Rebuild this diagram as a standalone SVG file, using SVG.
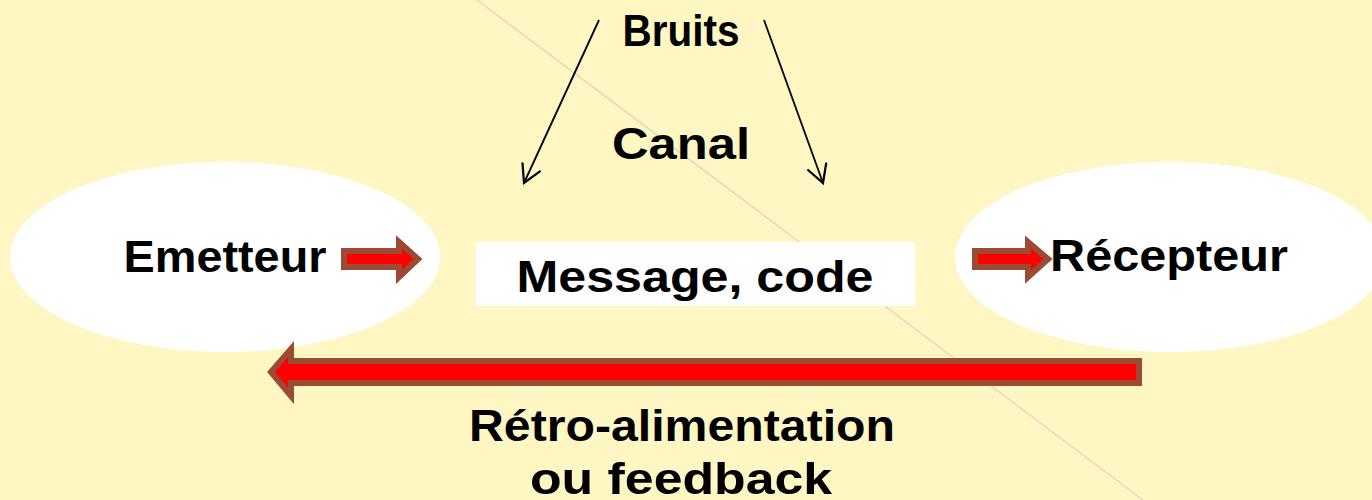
<svg xmlns="http://www.w3.org/2000/svg" width="1372" height="500" viewBox="0 0 1372 500">
<style>
.t{font-family:"Century Gothic","URW Gothic","Liberation Sans",Arial,sans-serif;font-weight:bold;fill:#000;text-anchor:middle;font-size:45px}
.arr{fill:#ff0000;stroke:#9b4a33;stroke-width:6;stroke-linejoin:miter}
.noise{stroke:#000;stroke-width:1.8;fill:none}
</style>
<defs>
<marker id="chev" viewBox="0 0 24 24" refX="21" refY="12" markerWidth="24" markerHeight="24" markerUnits="userSpaceOnUse" orient="auto">
<path d="M3,2 L21,12 L3,22" fill="none" stroke="#000" stroke-width="2.2"/>
</marker>
</defs>
<rect width="1372" height="500" fill="#fef6c3"/>
<line x1="477" y1="0" x2="1143" y2="500" stroke="#e2dcbf" stroke-width="1.5"/>
<g id="emetteur">
<ellipse cx="225" cy="257" rx="215" ry="95" fill="#fff"/>
<text class="t" x="225" y="272" textLength="203" lengthAdjust="spacingAndGlyphs">Emetteur</text>
</g>
<g id="recepteur">
<ellipse cx="1170" cy="257" rx="215" ry="95" fill="#fff"/>
<text class="t" x="1169" y="271" textLength="238" lengthAdjust="spacingAndGlyphs">Récepteur</text>
</g>
<g id="message">
<rect x="476" y="242" width="439" height="64" fill="#fff"/>
<text class="t" x="695" y="292" textLength="357" lengthAdjust="spacingAndGlyphs">Message, code</text>
</g>
<g id="bruits">
<text class="t" x="681" y="46" textLength="117" lengthAdjust="spacingAndGlyphs">Bruits</text>
</g>
<g id="canal">
<text class="t" x="681" y="159" textLength="138" lengthAdjust="spacingAndGlyphs">Canal</text>
</g>
<g id="feedback">
<text class="t" x="682" y="441" textLength="426" lengthAdjust="spacingAndGlyphs">Rétro-alimentation</text>
<text class="t" x="681" y="494" textLength="302" lengthAdjust="spacingAndGlyphs">ou feedback</text>
</g>
<g id="connectors">
<line class="noise" x1="599" y1="20" x2="524" y2="183" marker-end="url(#chev)"/>
<line class="noise" x1="764" y1="20" x2="823" y2="183" marker-end="url(#chev)"/>
<path class="arr" d="M344,251 L399,251 L399,242 L418,259 L399,277 L399,267 L344,267 Z"/>
<path class="arr" d="M975,251 L1028,251 L1028,242 L1048,259 L1028,277 L1028,267 L975,267 Z"/>
<path class="arr" d="M1139,361 L291,361 L291,349 L271,372 L291,396 L291,383 L1139,383 Z"/>
</g>
</svg>
